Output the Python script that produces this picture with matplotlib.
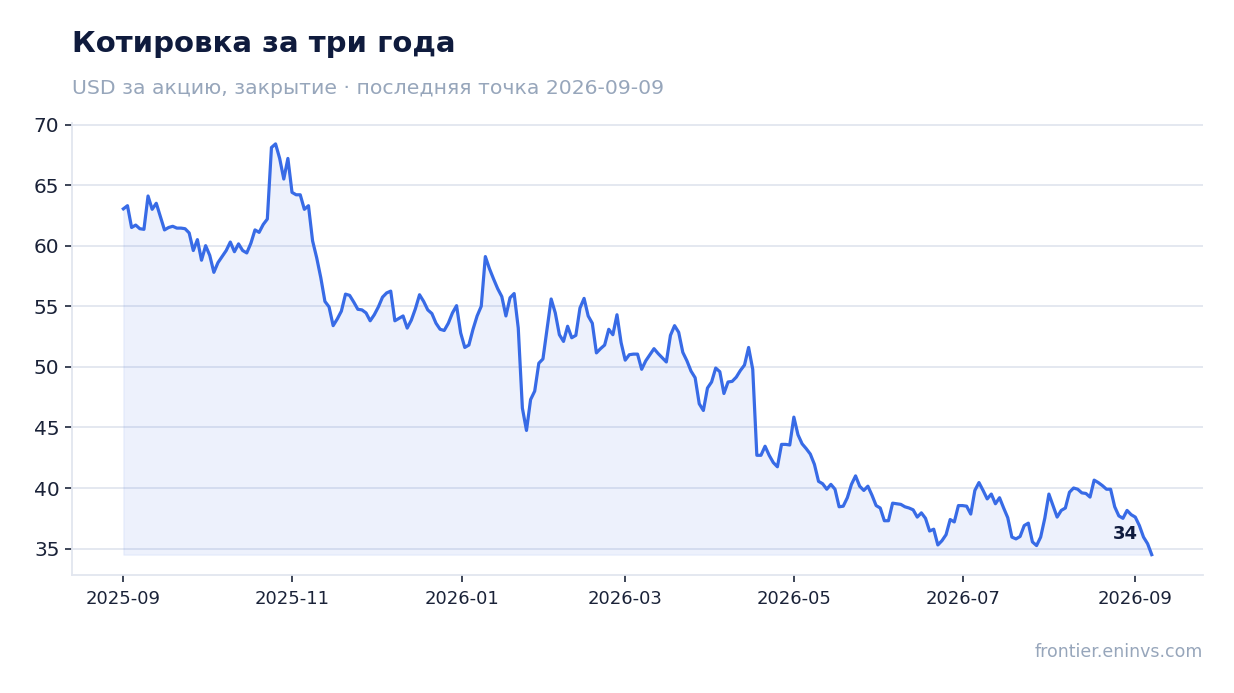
import numpy as np
import pandas as pd
import matplotlib
matplotlib.use("Agg")
import matplotlib.pyplot as plt
import matplotlib.dates as mdates

# closing prices (roughly evenly spaced sessions)
START = "2025-09-01"
END = "2026-09-07"
prices = [
    63.04, 63.3, 61.5, 61.7, 61.4, 61.35, 64.1, 63.0, 63.5, 62.4,
    61.3, 61.5, 61.6, 61.45, 61.45, 61.4, 61.05, 59.6, 60.5, 58.8,
    60.0, 59.2, 57.8, 58.6, 59.1, 59.6, 60.3, 59.5, 60.15, 59.6,
    59.4, 60.2, 61.3, 61.1, 61.75, 62.2, 68.1, 68.4, 67.2, 65.5,
    67.2, 64.4,
    64.2, 64.2, 63.0, 63.3, 60.4, 59.0, 57.35, 55.4, 54.95, 53.4,
    53.95, 54.6, 56.0, 55.9, 55.35, 54.75, 54.7, 54.45, 53.8, 54.3,
    54.95, 55.75, 56.1, 56.25, 53.8, 54.0, 54.2, 53.2, 53.85, 54.8,
    55.95, 55.4, 54.7, 54.4, 53.6, 53.1, 53.0, 53.6, 54.45, 55.05,
    52.8, 51.6, 51.8, 53.1, 54.2, 55.0, 59.1, 58.1, 57.25, 56.45,
    55.8, 54.2, 55.7, 56.05, 53.2, 46.6, 44.75, 47.3, 48.0, 50.3,
    50.65, 53.1, 55.6, 54.45, 52.65, 52.1, 53.35, 52.4, 52.6, 54.85,
    55.65, 54.2, 53.6, 51.15, 51.5, 51.8, 53.1, 52.65, 54.3, 52.0,
    50.55, 51.0, 51.05,
    51.05, 49.8, 50.5, 51.0, 51.5, 51.1, 50.75, 50.4, 52.6, 53.4,
    52.85, 51.2, 50.5, 49.65, 49.1, 46.95, 46.4, 48.25, 48.75, 49.9,
    49.6, 47.8, 48.75, 48.8, 49.15, 49.7, 50.15, 51.6, 49.8, 42.7,
    42.7, 43.45, 42.7, 42.1, 41.75, 43.6, 43.6, 43.55, 45.85, 44.4,
    43.65,
    43.25, 42.8, 41.95, 40.55, 40.35, 39.9, 40.3, 39.9, 38.45, 38.5,
    39.2, 40.3, 41.0, 40.15, 39.8, 40.15, 39.4, 38.55, 38.35, 37.3,
    37.3, 38.75, 38.7, 38.65, 38.45, 38.35, 38.2, 37.6, 37.95, 37.5,
    36.45, 36.6, 35.3, 35.65, 36.15, 37.4, 37.2, 38.55, 38.55, 38.5,
    37.85,
    39.8, 40.45, 39.8, 39.1, 39.5, 38.7, 39.2, 38.35, 37.55, 35.95,
    35.8, 36.0, 36.9, 37.1, 35.55, 35.25, 35.95, 37.5, 39.5, 38.55,
    37.6, 38.15, 38.35, 39.65, 40.0, 39.9, 39.6, 39.55, 39.25, 40.65,
    40.45, 40.2, 39.9, 39.9, 38.45, 37.7, 37.5, 38.15, 37.8, 37.6,
    36.9, 35.95, 35.4, 34.5,
]
yticks = [35, 40, 45, 50, 55, 60, 65, 70]

title = "Котировка за три года"
subtitle = "USD за акцию, закрытие · последняя точка 2026-09-09"
source = "frontier.eninvs.com"

LINE = "#386be6"
NAVY = "#0f1b3d"
GREY = "#97a6bb"
GRID = "#e2e6ef"

dates = pd.date_range(START, END, periods=len(prices))
prices = np.array(prices)

fig = plt.figure(figsize=(12.34, 6.93), dpi=100)
ax = fig.add_axes([0.0583, 0.170, 0.9167, 0.652])

ax.fill_between(dates, prices, prices.min(), color=LINE, alpha=0.09, linewidth=0.8)
ax.plot(dates, prices, color=LINE, linewidth=2.3, solid_joinstyle="round")

# last value label
ax.annotate(f"{prices[-1]:.0f}", (dates[-1], prices[-1]), xytext=(-10, 15),
            textcoords="offset points", ha="right", va="center",
            fontsize=13, fontweight="bold", color=NAVY)

ax.set_yticks(yticks)
ax.xaxis.set_major_locator(mdates.MonthLocator(bymonth=[1, 3, 5, 7, 9, 11]))
ax.xaxis.set_major_formatter(mdates.DateFormatter("%Y-%m"))
ax.grid(axis="y", color=GRID, linewidth=1.3)
ax.set_axisbelow(True)

for s in ["top", "right"]:
    ax.spines[s].set_visible(False)
for s in ["left", "bottom"]:
    ax.spines[s].set_color(GRID)
    ax.spines[s].set_linewidth(1.3)

ax.tick_params(axis="y", labelsize=14.5, labelcolor="#1a2238", color="#3d4557",
               length=5, width=1.4, pad=4)
ax.tick_params(axis="x", labelsize=13, labelcolor="#1a2238", color="#3d4557",
               length=5, width=1.4, pad=6)

fig.text(0.0583, 1 - 44 / 693, title, fontsize=21, fontweight="bold",
         color=NAVY, va="center", ha="left")
fig.text(0.0583, 1 - 88 / 693, subtitle, fontsize=14.7, color=GREY,
         va="center", ha="left")
fig.text(0.975, 1 - 652 / 693, source, fontsize=12.5, color=GREY,
         va="center", ha="right")

fig.savefig("out.png", dpi=100)
